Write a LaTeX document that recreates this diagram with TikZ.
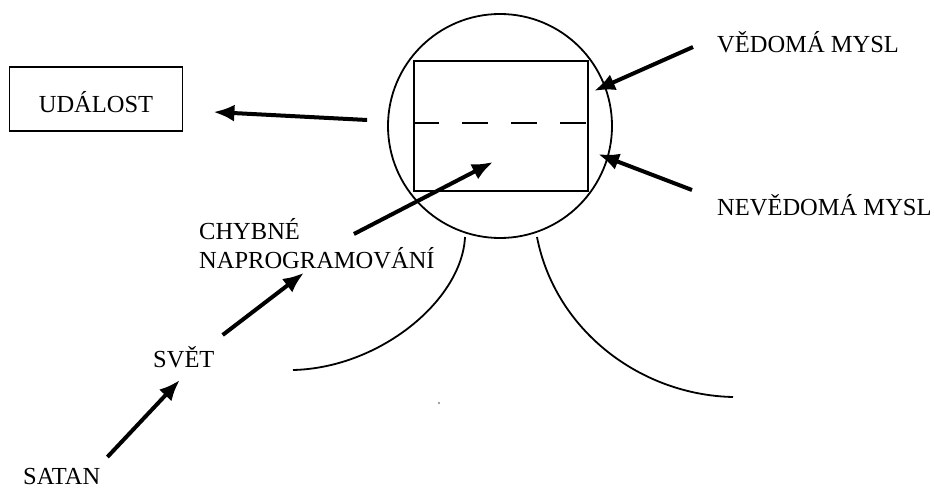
\documentclass[tikz,border=0pt]{standalone}
\usepackage{fontspec}
\setmainfont{Liberation Serif}
\usetikzlibrary{arrows.meta}
\begin{document}
\begin{tikzpicture}[x=1pt,y=-1pt,
  every node/.style={font=\fontsize{24.5}{29}\selectfont},
  lbl/.style={inner sep=0pt},
  outline/.style={line width=1.8pt},
  pointer/.style={-{Latex[length=21pt,width=17pt]},line width=4pt}]
\useasboundingbox (0,0) rectangle (934,492);
\node[draw,outline,minimum width=173,minimum height=64,text height=28,text depth=0] (udalost) at (96,99) {UDÁLOST};
\node[draw,outline,circle,minimum size=224] (head) at (500,126) {};
\node[draw,line width=2.2pt,minimum width=174,minimum height=130] (mind) at (501,126) {};
\draw[line width=2.2pt,dash pattern=on 26pt off 23pt] ([shift={(0,-3)}]mind.west) -- ([shift={(0,-3)}]mind.east);
\node[lbl,anchor=base west] (vedoma) at (717,53) {VĚDOMÁ MYSL};
\node[lbl,anchor=base west] (nevedoma) at (717,215) {NEVĚDOMÁ MYSL};
\node[lbl,anchor=north west,align=left] (chyba) at (199,218) {CHYBNÉ\\NAPROGRAMOVÁNÍ};
\node[lbl,anchor=base west] (svet) at (153,367) {SVĚT};
\node[lbl,anchor=base west] (satan) at (23,484) {SATAN};
\draw[pointer] ([shift={(-20,-6)}]head.west) -- ([shift={(30,13)}]udalost.east);
\draw[pointer] ([shift={(-24,-6)}]vedoma.base west) -- ([shift={(5,31)}]mind.north east);
\draw[pointer] ([shift={(-25,-25)}]nevedoma.base west) -- ([shift={(9,-38)}]mind.south east);
\draw[pointer] ([shift={(37,16)}]chyba.north) -- ([shift={(-8,36)}]mind.center);
\draw[pointer] ([shift={(8,-32)}]svet.base east) -- ([shift={(-13,4)}]chyba.south);
\draw[pointer] ([shift={(7,-27)}]satan.base east) -- ([shift={(-4,13)}]svet.base);
\draw[outline] (465,237) .. controls (462,300) and (380,368) .. (293,370);
\draw[outline] (537,237) .. controls (555,330) and (640,395) .. (733,397);
\fill[gray] (439,403) circle[radius=1.2];
\end{tikzpicture}
\end{document}
